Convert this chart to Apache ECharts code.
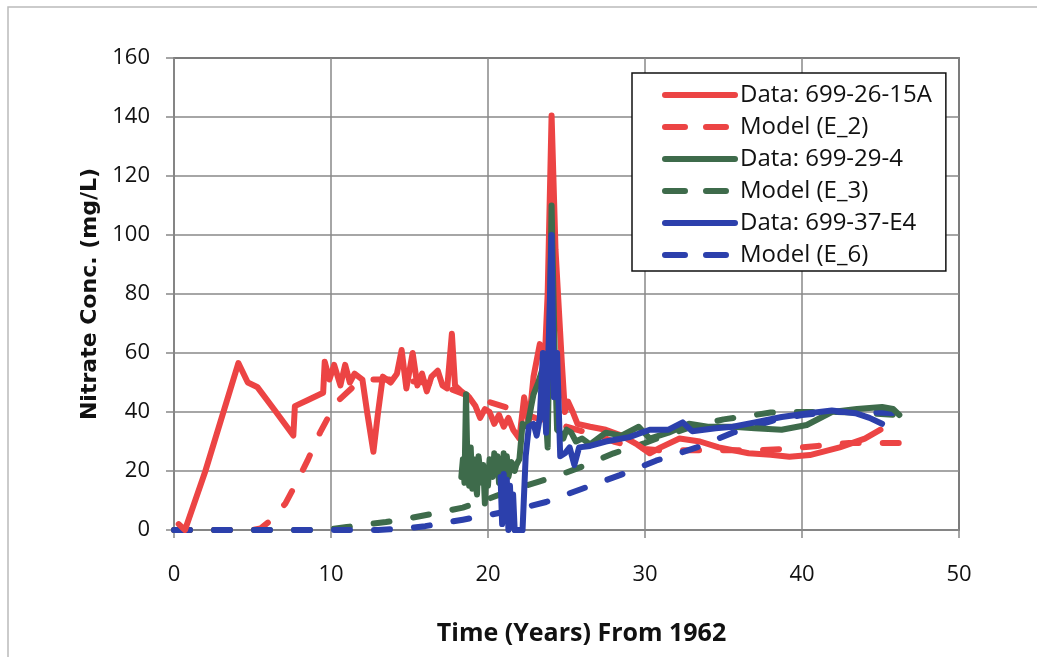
<!DOCTYPE html>
<html>
<head>
<meta charset="utf-8">
<script src="https://cdn.jsdelivr.net/npm/echarts@6/dist/echarts.min.js"></script>
<style>html,body{margin:0;padding:0;background:#fff;}#c{width:1037px;height:657px;}</style>
</head>
<body>
<div id="c"></div>
<script>
const xTicks = [0, 10, 20, 30, 40, 50];
const yTicks = [0, 20, 40, 60, 80, 100, 120, 140, 160];
const seriesNames = ['Data: 699-26-15A', 'Model (E_2)', 'Data: 699-29-4', 'Model (E_3)', 'Data: 699-37-E4', 'Model (E_6)'];

const data26_15A = [[0.3,2],[0.7,0],[2,20],[4.1,56.6],[4.7,50],[5.3,48.5],[6.5,40],[7.6,32],[7.7,42],[8.5,44],[9.5,46.5],[9.6,57],[9.9,51],[10.2,56],[10.6,49],[10.9,56],[11.2,50],[11.5,53],[12.0,51],[12.3,40],[12.7,26.5],[13.0,40],[13.3,52],[13.8,50],[14.2,53],[14.5,61],[14.8,48],[15.0,54],[15.2,60],[15.5,49],[15.8,53],[16.1,47],[16.4,52],[16.8,54],[17.1,49],[17.4,48],[17.7,66.5],[17.9,49],[18.3,47],[18.8,45],[19.2,42],[19.5,38],[19.8,41],[20.1,40],[20.4,36],[20.7,39],[21.0,35],[21.3,38],[21.6,34],[22.0,31],[22.3,45],[22.6,36],[22.9,52],[23.3,63],[23.6,56],[23.8,80],[24.05,140.5],[24.3,95],[24.7,57],[24.9,40],[25.1,43.5],[25.4,40],[25.7,36],[26.5,35],[27.5,34],[28.5,32],[29.5,29],[30.3,26],[31,28],[32.2,31],[33.5,30],[34.7,28],[36.6,26],[38,25.5],[39.2,24.8],[40.5,25.4],[42.4,28],[44,31],[45,34]];
const modelE2 = [[0,0],[5,0],[5.5,0.5],[6.1,3],[7.1,9],[7.8,16],[8.5,23.5],[9.3,33],[9.9,39],[10.5,44],[11.5,49],[12.5,51],[14,51],[16,50],[17.5,48],[19,45],[20.3,43],[21.8,40.5],[23,38],[24,37],[25,35],[26,33.5],[27,32],[28,30],[29,28.5],[30,27.5],[31,27],[33,27],[35,27],[37,27],[39,27.5],[41,28.5],[43,29.5],[45,29.5],[46.7,29.5]];
const data29_4 = [[18.3,18],[18.4,24],[18.5,16],[18.6,46],[18.7,20],[18.8,15],[18.9,28],[19.0,14],[19.1,24],[19.2,16],[19.3,12],[19.4,25],[19.5,20],[19.6,16],[19.7,22],[19.8,9],[19.9,20],[20.0,15],[20.1,24],[20.2,19],[20.3,18],[20.4,26],[20.5,21],[20.6,25],[20.7,16],[20.8,24],[20.9,20],[21.0,26],[21.1,21],[21.2,25],[21.3,18],[21.5,23],[21.7,20],[21.8,22],[22.0,24],[22.2,36],[22.5,35],[22.9,46],[23.2,50],[23.5,55],[23.8,28],[24.05,110],[24.25,60],[24.4,34],[24.6,33],[24.8,31],[25.0,34],[25.3,33],[25.6,30],[26.0,31],[26.5,29],[27.5,33],[28.5,32],[29.6,35],[30.3,31],[31.5,33],[32.8,36],[34,35],[35.6,35],[37,34.5],[38.7,34],[40.3,35.6],[41.9,40],[43.5,41],[45.1,41.7],[45.8,41],[46.2,39]];
const modelE3 = [[0,0],[9,0],[10,0.3],[11,1],[12,1.7],[13.5,2.7],[15,4],[16.5,5.5],[18.4,7.6],[20,10.5],[21.5,13.5],[23.3,16.5],[25,19.5],[26,21.5],[28,26],[30,29.5],[31,31.5],[33,35],[35,37.5],[37,39],[38,39.8],[40,40],[42,40],[44,39.7],[46.7,38.8]];
const data37_E4 = [[20.8,18],[20.9,2],[21.0,19],[21.1,3],[21.2,17],[21.3,0],[21.4,15],[21.5,1],[21.6,12],[21.7,0],[22.2,0],[22.4,25],[22.6,35],[22.9,36],[23.1,32],[23.3,38],[23.5,60],[23.7,33],[23.9,70],[24.05,100],[24.2,45],[24.4,60],[24.6,25],[24.9,26],[25.2,28],[25.5,22],[25.8,28],[26.5,28.5],[27.5,30],[29,31.5],[30.3,34],[31.5,34],[32.4,36.5],[33,33.5],[34.5,34.5],[35.6,35],[37,36.5],[38.7,38.3],[40.3,39.5],[41.9,40.5],[43.4,39.6],[44.3,38],[45.1,36]];
const modelE6 = [[0,0],[13,0],[14,0.3],[15,0.7],[16,1.3],[17,2.2],[18.4,3.5],[20,5],[22,7.2],[23.7,9.5],[26,14],[28.4,18.6],[30.7,23.5],[33.3,28],[35.6,33],[38.1,37],[40,39],[42,40],[44,40],[46.7,39.5]];

const RED = '#EC4444', GREEN = '#3E6B4B', BLUE = '#2C40AC';
const allData = [data26_15A, modelE2, data29_4, modelE3, data37_E4, modelE6];
const colors = [RED, RED, GREEN, GREEN, BLUE, BLUE];
const FONT = 'Open Sans';
const PLOT_DASH = [16, 24];
const LEG_DASH = [20, 21];

const chart = echarts.init(document.getElementById('c'), null, {renderer: 'canvas'});
const zs = [3, 2, 4, 2, 5, 2];
const series = allData.map((d, i) => ({
  name: seriesNames[i],
  type: 'line',
  data: d,
  showSymbol: false,
  symbol: 'none',
  smooth: false,
  z: zs[i],
  lineStyle: {color: colors[i], width: 6, type: i % 2 === 1 ? PLOT_DASH : 'solid', cap: 'round', join: 'round'},
  itemStyle: {color: colors[i]}
}));

chart.setOption({
  animation: false,
  backgroundColor: '#fff',
  graphic: [{type: 'rect', shape: {x: 8, y: 7, width: 1040, height: 660}, style: {fill: 'none', stroke: '#bbb', lineWidth: 1.5}, silent: true}],
  grid: {left: 174, right: 78, top: 58, bottom: 127, show: true, borderColor: '#222', borderWidth: 1.5, backgroundColor: 'transparent'},
  legend: {
    orient: 'vertical', left: 632, top: 73,
    itemWidth: 70, itemHeight: 14, itemGap: 8,
    padding: [10, 14, 4, 30],
    borderColor: '#111', borderWidth: 1.5, backgroundColor: '#fff',
    itemStyle: {opacity: 0},
    lineStyle: {width: 6, cap: 'round'},
    textStyle: {fontFamily: FONT, fontSize: 24, color: '#111', lineHeight: 24},
    data: seriesNames.map((n, i) => ({name: n, lineStyle: {width: 6, cap: 'round', type: i % 2 === 1 ? LEG_DASH : 'solid'}}))
  },
  xAxis: {
    type: 'value', min: 0, max: 50, interval: 10,
    name: 'Time (Years) From 1962', nameLocation: 'middle', nameGap: 91,
    nameTextStyle: {fontFamily: FONT, fontSize: 25, fontWeight: 'bold', color: '#111', padding: [0, 0, 0, 30]},
    axisLine: {show: true, onZero: false, lineStyle: {color: '#888', width: 1.5}},
    axisTick: {show: true, inside: false, length: 8, lineStyle: {color: '#888', width: 1.5}},
    axisLabel: {fontFamily: FONT, fontSize: 22, color: '#111', margin: 34, formatter: v => xTicks.includes(v) ? String(v) : ''},
    splitLine: {show: true, lineStyle: {color: '#888', width: 1.5}}
  },
  yAxis: {
    type: 'value', min: 0, max: 160, interval: 20,
    name: 'Nitrate Conc. (mg/L)', nameLocation: 'middle', nameGap: 70, nameRotate: 90,
    nameTextStyle: {fontFamily: 'DejaVu Sans', fontSize: 22, fontWeight: 'bold', color: '#111'},
    axisLine: {show: true, lineStyle: {color: '#888', width: 1.5}},
    axisTick: {show: true, inside: false, length: 8, lineStyle: {color: '#888', width: 1.5}},
    axisLabel: {fontFamily: FONT, fontSize: 22, color: '#111', margin: 24, formatter: v => yTicks.includes(v) ? String(v) : ''},
    splitLine: {show: true, lineStyle: {color: '#888', width: 1.5}}
  },
  series: series
});
</script>
</body>
</html>
